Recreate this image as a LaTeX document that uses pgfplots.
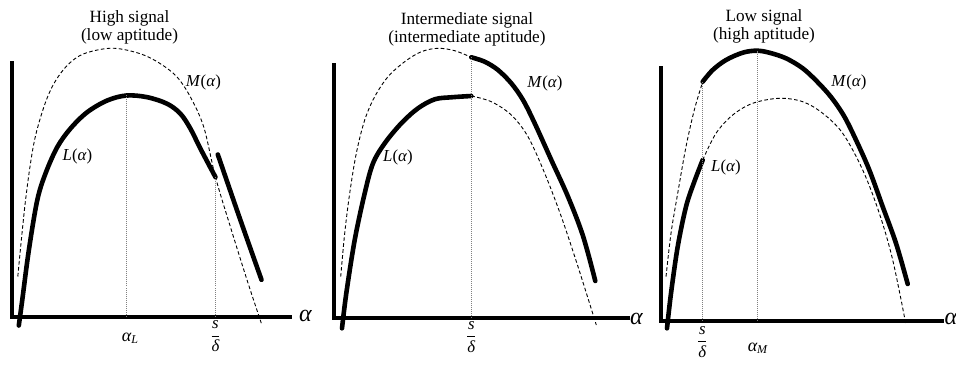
\documentclass[border=0pt]{standalone}
\usepackage{amsmath}
\usepackage{pgfplots}
\pgfplotsset{compat=1.18}
\usepackage{fontspec}
\setmainfont{Liberation Serif}

% one unit = one sketch pixel = 0.5pt
\pgfplotsset{
  sketch/.style={
    x=0.5pt, y=0.5pt, xmin=0, ymin=0,
    axis lines=left,
    axis line style={line width=2pt, -, line cap=rect},
    xtick=\empty, ytick=\empty,
    clip=false, anchor=south west,
  },
  bold/.style={black, line width=2.3pt, line cap=round, line join=round,
    smooth, tension=0.55, mark=none},
  thin/.style={black, line width=0.45pt, dash pattern=on 1.8pt off 1.2pt,
    smooth, tension=0.55, mark=none},
  guide/.style={gray, line width=0.5pt, dash pattern=on 0.5pt off 0.5pt, mark=none},
}
\newcommand{\ttl}{\fontsize{8.6}{8.8}\selectfont}
\newcommand{\lbl}{\fontsize{8.4}{9.5}\selectfont}
\newcommand{\sub}{\fontsize{9}{10}\selectfont}
\newcommand{\axl}{\fontsize{12}{13}\selectfont\textit{α}}
\newcommand{\sd}{$\displaystyle\frac{\textit{s}}{\textit{δ}}$}

\begin{document}
\begin{tikzpicture}
\useasboundingbox (0,0) rectangle (478pt,182pt);

% ---------------- High signal ----------------
\begin{axis}[sketch, at={(6.25pt,23.75pt)}, xmax=277.5, ymax=253.5]
  \addplot[thin] coordinates {(5.3,40) (13,116) (21.3,172.7) (31.3,209.3) (41.3,232.7)
    (54.7,251) (71.3,262.7) (99.7,268.3) (128,262.7) (148,252.7) (164.7,239.3)
    (178,219.3) (191.3,189.3) (203,139.3) (218,89.3) (234.7,36) (249,-7.3)};
  \addplot[bold] coordinates {(6.3,-9) (9.7,16) (16.3,66) (24.7,116) (33,143)
    (44.7,169.3) (58,188) (74.7,204.3) (94.7,216) (114,221) (134.7,219.3)
    (154.7,212.7) (168,202.7) (178,187.7) (188,167.7) (203,139.3)};
  \addplot[bold] coordinates {(205.3,162) (227,99) (249,36.7)};
  \addplot[guide] coordinates {(114,0) (114,221)};
  \addplot[guide] coordinates {(203,0) (203,139.3)};
  \node[font=\ttl, align=center, anchor=north] at (axis cs:117,313)
    {High signal\\(low aptitude)};
  \node[font=\lbl] at (axis cs:65,160) {\textit{L}(\textit{α})};
  \node[font=\lbl] at (axis cs:191,234) {\textit{M}(\textit{α})};
  \node[font=\sub] at (axis cs:118,-22) {$\textit{α}_{\textit{L}}$};
  \node[font=\lbl] at (axis cs:203,-20) {\sd};
  \node at (axis cs:293,1) {\axl};
\end{axis}

% ---------------- Intermediate signal ----------------
\begin{axis}[sketch, at={(167pt,23pt)}, xmax=293.7, ymax=253]
  \addplot[thin] coordinates {(6.7,41.3) (10.7,84.7) (15.7,124.7) (22.3,164.7)
    (30.7,198) (40.7,221.3) (54,241.3) (70.7,256.3) (87.3,266.3) (104,269.7)
    (120.7,267.3) (137.3,260.7)};
  \addplot[bold] coordinates {(8,-10.3) (12.3,24.7) (20.7,78) (30.7,124.7)
    (39,154.7) (50.7,174.7) (67.3,194.7) (84,209.7) (100.7,218.7) (117.3,220.7)
    (137.3,222)};
  \addplot[thin] coordinates {(137.3,222) (157.3,216.3) (177.3,203) (194,181.3)
    (210.7,144.7) (227.3,101.3) (244,51.3) (262.3,-7)};
  \addplot[bold] coordinates {(137.3,260.7) (150.7,256.3) (164,248) (177.3,234.7)
    (189,218) (200.7,194.7) (217.3,158) (234,121.3) (249,82) (261.3,37)};
  \addplot[guide] coordinates {(137.3,0) (137.3,260.7)};
  \node[font=\ttl, align=center, anchor=north] at (axis cs:133,312)
    {Intermediate signal\\(intermediate aptitude)};
  \node[font=\lbl] at (axis cs:64,161) {\textit{L}(\textit{α})};
  \node[font=\lbl] at (axis cs:211,235) {\textit{M}(\textit{α})};
  \node[font=\lbl] at (axis cs:137.3,-19) {\sd};
  \node at (axis cs:302.5,-1) {\axl};
\end{axis}

% ---------------- Low signal ----------------
\begin{axis}[sketch, at={(330.5pt,21.5pt)}, xmax=281, ymax=253]
  \addplot[thin] coordinates {(5,44.3) (10,87.7) (16.7,127.7) (25,174.3)
    (33.3,211) (41.7,239.3)};
  \addplot[bold] coordinates {(41.7,239.3) (51.7,251) (65,261) (81.7,268.3)
    (95.7,270.3) (108.3,268.3) (125,262.7) (141.7,252.7) (156,239.5)
    (170,224) (183,205) (195,181) (208.3,151) (221.7,114.3) (235,77.7)
    (246.7,37)};
  \addplot[bold] coordinates {(6,-7.3) (10,27.7) (16.7,74.3) (25,114.3)
    (33.3,139.3) (41.7,161)};
  \addplot[thin] coordinates {(41.7,161) (55,187.7) (71.7,206) (91.7,217.7)
    (118.3,222.7) (141.7,219.3) (161.7,207.7) (181.7,187.7) (201.7,151)
    (218.3,107.7) (231.7,61) (245,-4)};
  \addplot[guide] coordinates {(41.3,0) (41.3,239.3)};
  \addplot[guide] coordinates {(96.3,0) (96.3,270.3)};
  \node[font=\ttl, align=center, anchor=north] at (axis cs:103,318)
    {Low signal\\(high aptitude)};
  \node[font=\lbl] at (axis cs:65,154) {\textit{L}(\textit{α})};
  \node[font=\lbl] at (axis cs:188,239) {\textit{M}(\textit{α})};
  \node[font=\lbl] at (axis cs:41.3,-21) {\sd};
  \node[font=\sub] at (axis cs:97,-27) {$\textit{α}_{\textit{M}}$};
  \node at (axis cs:290,2) {\axl};
\end{axis}
\end{tikzpicture}
\end{document}
